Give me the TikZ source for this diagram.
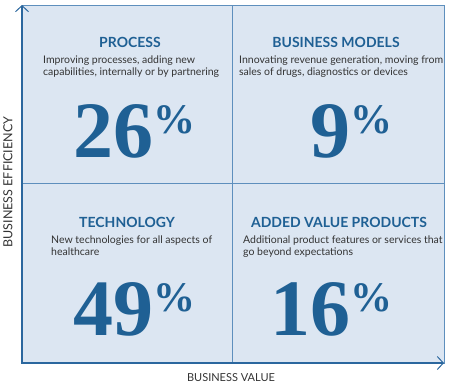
\documentclass[tikz,border=0pt]{standalone}
\usepackage{fontspec}
\setmainfont{Lato}
\newfontfamily\numfont{Liberation Serif}
\usetikzlibrary{arrows.meta}
\definecolor{panelblue}{HTML}{DCE6F2}
\definecolor{gridblue}{HTML}{5E8FBD}
\definecolor{axisblue}{HTML}{2B679E}
\definecolor{titleblue}{HTML}{1F6094}
\definecolor{bodygray}{HTML}{333333}
\tikzset{
  quad/.style={draw=gridblue, fill=panelblue, line width=0.8pt, inner sep=0pt, anchor=north west},
  title/.style={text=titleblue, font=\fontsize{14}{16}\selectfont\bfseries, anchor=base, inner sep=0pt},
  blurb/.style={text=bodygray, font=\fontsize{10.5}{12}\selectfont, align=left, anchor=north west, inner sep=0pt},
  share/.style={text=titleblue, font=\numfont\bfseries\fontsize{80}{80}\selectfont, anchor=base, inner sep=0pt},
  axis/.style={draw=axisblue, line width=1.8pt},
  axislabel/.style={text=bodygray, inner sep=0pt}
}
\newcommand{\pct}{{\fontsize{42}{42}\selectfont\raisebox{24pt}{\%}}}
\begin{document}
\begin{tikzpicture}[x=1pt, y=-1pt]
\useasboundingbox (0,0) rectangle (450,386);
% Quadrants
\node[quad, minimum width=210pt, minimum height=178pt] (process) at (22,5) {};
\node[quad, minimum width=212pt, minimum height=178pt] (models) at (232,5) {};
\node[quad, minimum width=210pt, minimum height=180pt] (tech) at (22,183) {};
\node[quad, minimum width=212pt, minimum height=180pt] (added) at (232,183) {};
% Axes
\coordinate (ytip) at (22,5);
\coordinate (origin) at (22,363);
\coordinate (xtip) at (444,363);
\draw[axis, {Straight Barb[length=6pt,width=13pt,line width=1pt]}-{Straight Barb[length=6pt,width=13pt,line width=1pt]}] (ytip) -- (origin) -- (xtip);
\node[axislabel, rotate=90, font=\fontsize{12.5}{14}\selectfont] (ylab) at (8,182) {BUSINESS EFFICIENCY};
\node[axislabel, font=\fontsize{11}{13}\selectfont] (xlab) at (231,378) {BUSINESS VALUE};
% Titles
\node[title] (processT) at (130,47) {PROCESS};
\node[title] (modelsT) at (336,47) {BUSINESS MODELS};
\node[title] (techT) at (127,227) {TECHNOLOGY};
\node[title] (addedT) at (339,227) {ADDED VALUE PRODUCTS};
% Descriptions
\node[blurb] (processD) at (43,56) {Improving processes, adding new\\capabilities, internally or by partnering};
\node[blurb] (modelsD) at (239,56) {Innovating revenue generation, moving from\\sales of drugs, diagnostics or devices};
\node[blurb] (techD) at (51,236) {New technologies for all aspects of\\healthcare};
\node[blurb] (addedD) at (243,236) {Additional product features or services that\\go beyond expectations};
% Shares
\node[share] (processP) at (134,157) {26\pct};
\node[share] (modelsP) at (351,157) {9\pct};
\node[share] (techP) at (134,335) {49\pct};
\node[share] (addedP) at (331,335) {16\pct};
\end{tikzpicture}
\end{document}
